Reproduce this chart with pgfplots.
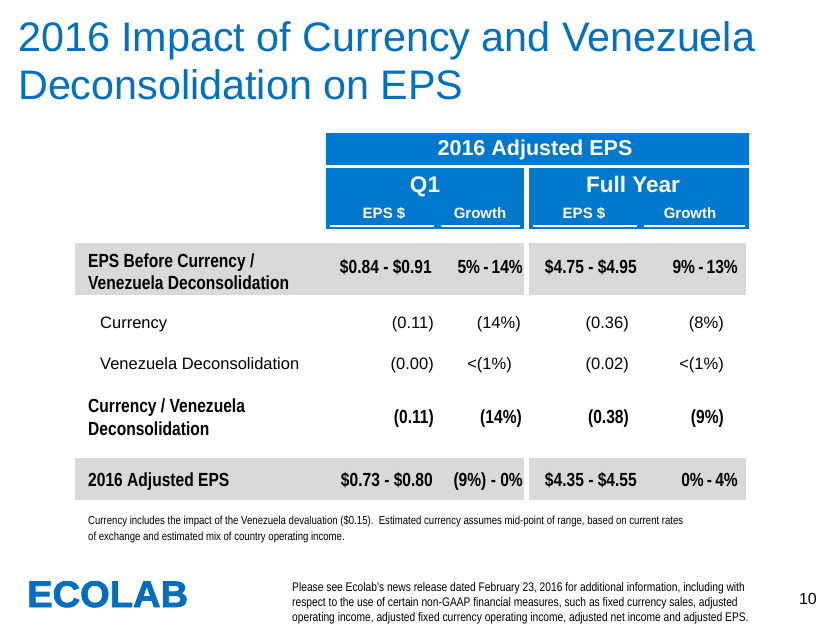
\documentclass[border=0pt]{standalone}
\usepackage{fontspec}
\setmainfont{Liberation Sans}
\newfontfamily\narrow[FakeStretch=0.82]{Liberation Sans}
\newfontfamily\logofont[FakeStretch=1.03,BoldFeatures={FakeBold=2}]{Liberation Sans}
\usepackage{pgfplots}
\pgfplotsset{compat=1.18}
\definecolor{titleblue}{RGB}{0,112,192}
\definecolor{hdrblue}{RGB}{0,120,206}
\definecolor{rowgrey}{RGB}{217,217,217}
\definecolor{logoblue}{RGB}{0,110,190}
\begin{document}
\begin{tikzpicture}
\begin{axis}[width=830pt,height=623pt,scale only axis,
  xmin=0,xmax=830,ymin=0,ymax=623,y dir=reverse,hide axis,clip=false]
% background
\addplot[draw=none,fill=white] coordinates {(0,0) (830,0) (830,623) (0,623)} --cycle;
% header boxes
\addplot[draw=none,fill=hdrblue] coordinates {(326,133) (749,133) (749,165) (326,165)} --cycle;
\addplot[draw=none,fill=hdrblue] coordinates {(326,168) (524,168) (524,229) (326,229)} --cycle;
\addplot[draw=none,fill=hdrblue] coordinates {(529,168) (749,168) (749,229) (529,229)} --cycle;
% underlines
\addplot[white,line width=1.2pt] coordinates {(330,226) (434,226)};
\addplot[white,line width=1.2pt] coordinates {(441,226) (520,226)};
\addplot[white,line width=1.2pt] coordinates {(533,226) (637,226)};
\addplot[white,line width=1.2pt] coordinates {(644,226) (745,226)};
% grey rows
\addplot[draw=none,fill=rowgrey] coordinates {(75,243) (524,243) (524,295) (75,295)} --cycle;
\addplot[draw=none,fill=rowgrey] coordinates {(529,243) (746,243) (746,295) (529,295)} --cycle;
\addplot[draw=none,fill=rowgrey] coordinates {(75,458) (524,458) (524,500) (75,500)} --cycle;
\addplot[draw=none,fill=rowgrey] coordinates {(529,458) (746,458) (746,500) (529,500)} --cycle;

% title
\node[anchor=base west,text=titleblue,font=\fontsize{41.3}{48}\selectfont,inner sep=0pt] at (axis cs:18,52) {2016 Impact of Currency and Venezuela};
\node[anchor=base west,text=titleblue,font=\fontsize{41.3}{48}\selectfont,inner sep=0pt] at (axis cs:18,100) {Deconsolidation on EPS};

% header texts
\node[text=white,font=\bfseries\fontsize{21.5}{24}\selectfont,inner sep=0pt,anchor=base] at (axis cs:535,156) {2016 Adjusted EPS};
\node[text=white,font=\bfseries\fontsize{22.5}{24}\selectfont,inner sep=0pt,anchor=base] at (axis cs:425,193) {Q1};
\node[text=white,font=\bfseries\fontsize{22.5}{24}\selectfont,inner sep=0pt,anchor=base] at (axis cs:633,193) {Full Year};
\node[text=white,font=\bfseries\fontsize{15}{18}\selectfont,inner sep=0pt,anchor=base] at (axis cs:384,219) {EPS \$};
\node[text=white,font=\bfseries\fontsize{15}{18}\selectfont,inner sep=0pt,anchor=base] at (axis cs:480,219) {Growth};
\node[text=white,font=\bfseries\fontsize{15}{18}\selectfont,inner sep=0pt,anchor=base] at (axis cs:584,219) {EPS \$};
\node[text=white,font=\bfseries\fontsize{15}{18}\selectfont,inner sep=0pt,anchor=base] at (axis cs:690,219) {Growth};

% row labels
\tikzset{lbl/.style={anchor=base west,inner sep=0pt,font=\narrow\bfseries\fontsize{19}{22}\selectfont},
 lblr/.style={anchor=base west,inner sep=0pt,font=\fontsize{16.5}{20}\selectfont},
 valb/.style={anchor=base east,inner sep=0pt,font=\narrow\bfseries\fontsize{19}{22}\selectfont},
 val/.style={anchor=base east,inner sep=0pt,font=\fontsize{16.5}{20}\selectfont}}
\node[lbl] at (axis cs:88,268) {EPS Before Currency /};
\node[lbl] at (axis cs:88,290) {Venezuela Deconsolidation};
\node[valb] at (axis cs:432,274) {\$0.84 - \$0.91};
\node[valb] at (axis cs:523,274) {5\%\,-\,14\%};
\node[valb] at (axis cs:637,274) {\$4.75 - \$4.95};
\node[valb] at (axis cs:738,274) {9\%\,-\,13\%};

\node[lblr] at (axis cs:100,328) {Currency};
\node[val] at (axis cs:434,328) {(0.11)};
\node[val] at (axis cs:521,328) {(14\%)};
\node[val] at (axis cs:629,328) {(0.36)};
\node[val] at (axis cs:724,328) {(8\%)};

\node[lblr] at (axis cs:100,370) {Venezuela Deconsolidation};
\node[val] at (axis cs:434,370) {(0.00)};
\node[val] at (axis cs:512,370) {<(1\%)};
\node[val] at (axis cs:629,370) {(0.02)};
\node[val] at (axis cs:724,370) {<(1\%)};

\node[lbl] at (axis cs:88,412) {Currency / Venezuela};
\node[lbl] at (axis cs:88,435) {Deconsolidation};
\node[valb] at (axis cs:434,423) {(0.11)};
\node[valb] at (axis cs:522,423) {(14\%)};
\node[valb] at (axis cs:629,423) {(0.38)};
\node[valb] at (axis cs:724,423) {(9\%)};

\node[lbl] at (axis cs:88,486) {2016 Adjusted EPS};
\node[valb] at (axis cs:433,486) {\$0.73 - \$0.80};
\node[valb] at (axis cs:523,486) {(9\%) - 0\%};
\node[valb] at (axis cs:637,486) {\$4.35 - \$4.55};
\node[valb] at (axis cs:738,486) {0\%\,-\,4\%};

% footnote
\node[anchor=base west,inner sep=0pt,font=\narrow\fontsize{11.7}{14}\selectfont] at (axis cs:88,524) {Currency includes the impact of the Venezuela devaluation (\$0.15).\ \ Estimated currency assumes mid-point of range, based on current rates};
\node[anchor=base west,inner sep=0pt,font=\narrow\fontsize{11.7}{14}\selectfont] at (axis cs:88,540) {of exchange and estimated mix of country operating income.};

\node[anchor=base west,inner sep=0pt,font=\narrow\fontsize{12.5}{15}\selectfont] at (axis cs:292,591) {Please see Ecolab's news release dated February 23, 2016 for additional information, including with};
\node[anchor=base west,inner sep=0pt,font=\narrow\fontsize{12.5}{15}\selectfont] at (axis cs:292,606) {respect to the use of certain non-GAAP financial measures, such as fixed currency sales, adjusted};
\node[anchor=base west,inner sep=0pt,font=\narrow\fontsize{12.5}{15}\selectfont] at (axis cs:292,621) {operating income, adjusted fixed currency operating income, adjusted net income and adjusted EPS.};
\node[anchor=base east,inner sep=0pt,font=\fontsize{16}{18}\selectfont] at (axis cs:817,604) {10};

% logo
\node[anchor=base west,inner sep=0pt,text=logoblue,font=\logofont\bfseries\fontsize{37}{40}\selectfont] at (axis cs:27,607) {ECOLAB};
\end{axis}
\end{tikzpicture}
\end{document}
